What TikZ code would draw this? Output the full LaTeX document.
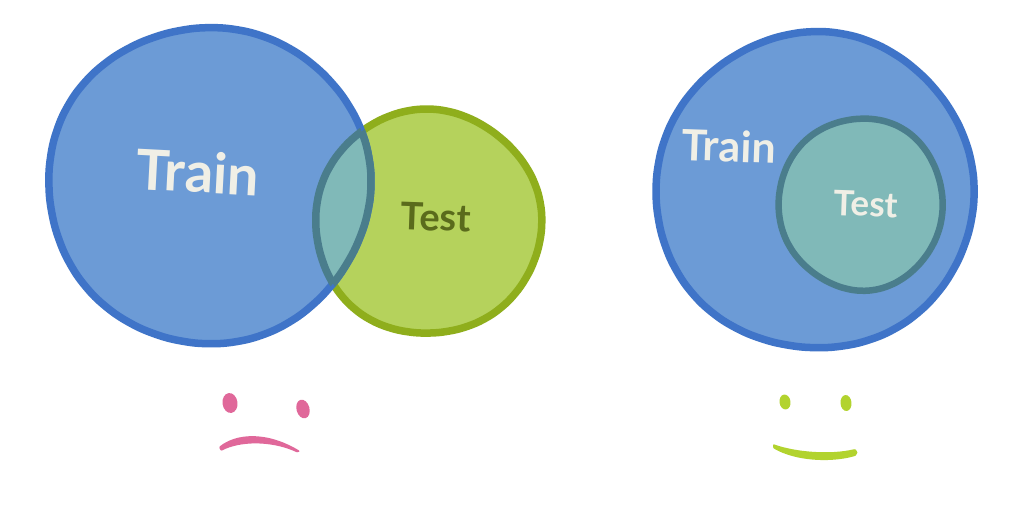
\documentclass[tikz,border=0pt]{standalone}
\usepackage{fontspec}
\setmainfont{Lato}
\definecolor{trainfill}{HTML}{6C9BD6}
\definecolor{trainline}{HTML}{3F74C8}
\definecolor{testfill}{HTML}{B5D25C}
\definecolor{testline}{HTML}{8FAE1C}
\definecolor{mixfill}{HTML}{80B9B8}
\definecolor{mixline}{HTML}{4A7D8C}
\definecolor{chalk}{HTML}{F0EFE6}
\definecolor{olive}{HTML}{5A6B1C}
\definecolor{frown}{HTML}{E0689A}
\definecolor{smile}{HTML}{B2D32E}
\tikzset{
  x=1pt,y=-1pt,
  leftTrain/.style={insert path={plot[smooth cycle,samples=36,domain=0:350,tension=0.7,variable=\t]
    ({209+161*(1+0.006*sin(3*\t+20)+0.004*sin(5*\t+70))*cos(\t)},{185-158*(1+0.006*sin(3*\t+20)+0.004*sin(5*\t+70))*sin(\t)})}},
  leftTest/.style={insert path={plot[smooth cycle,samples=36,domain=0:350,tension=0.7,variable=\t]
    ({428+113*(1+0.007*sin(3*\t+120)+0.005*sin(5*\t+10))*cos(\t)},{222-112*(1+0.007*sin(3*\t+120)+0.005*sin(5*\t+10))*sin(\t)})}},
  rightTrain/.style={insert path={plot[smooth cycle,samples=36,domain=0:350,tension=0.7,variable=\t]
    ({815+159*(1+0.006*sin(3*\t+200)+0.004*sin(5*\t+40))*cos(\t)},{191-158*(1+0.006*sin(3*\t+200)+0.004*sin(5*\t+40))*sin(\t)})}},
  rightTest/.style={insert path={plot[smooth cycle,samples=36,domain=0:350,tension=0.7,variable=\t]
    ({861+82*(1+0.008*sin(3*\t+300)+0.005*sin(5*\t+150))*cos(\t)},{204-86*(1+0.008*sin(3*\t+300)+0.005*sin(5*\t+150))*sin(\t)})}},
  blob/.style={line width=7.5pt,line join=round},
  word/.style={font=\bfseries,inner sep=0pt},
}
\begin{document}
\begin{tikzpicture}
\useasboundingbox (0,0) rectangle (1024,512);
\fill[white] (0,0) rectangle (1024,512);
% left diagram
\path[fill=testfill,draw=testline,blob,leftTest];
\path[fill=trainfill,draw=trainline,blob,leftTrain];
\begin{scope}
  \path[clip,leftTrain];
  \path[fill=mixfill,draw=mixline,blob,leftTest];
\end{scope}
\begin{scope}
  \path[clip,leftTest];
  \path[draw=mixline,blob,leftTrain];
\end{scope}
\node[word,text=chalk,rotate=-3] (trainA) at (198,172) {\fontsize{56}{56}\selectfont Train};
\node[word,text=olive,rotate=-2] (testA) at (436,217) {\fontsize{38}{38}\selectfont Test};
% right diagram
\path[fill=trainfill,draw=trainline,blob,rightTrain];
\path[fill=mixfill,draw=mixline,blob,line width=6.5pt,rightTest];
\node[word,text=chalk,rotate=-2] (trainB) at (729,146) {\fontsize{43}{43}\selectfont Train};
\node[word,text=chalk,rotate=-2] (testB) at (866,204) {\fontsize{35}{35}\selectfont Test};
% sad face
\fill[frown,rotate around={8:(230,403)}] (230,403) ellipse [x radius=7.5,y radius=10];
\fill[frown,rotate around={15:(303,409)}] (303,409) ellipse [x radius=6.5,y radius=9.5];
\fill[frown,rounded corners=1pt] (219,447) .. controls (235,434) and (265,430) .. (300,451) .. controls (298,453) and (296,452) .. (294,451) .. controls (270,441) and (240,441) .. (221,451) -- cycle;
% happy face
\fill[smile,rotate around={8:(785,402)}] (785,402) ellipse [x radius=5.5,y radius=7.5];
\fill[smile,rotate around={5:(846,403)}] (846,403) ellipse [x radius=5.5,y radius=8];
\fill[smile,rounded corners=1pt] (773,444) .. controls (795,452) and (830,455) .. (855,449) .. controls (858,451) and (858,454) .. (855,456) .. controls (830,463) and (795,461) .. (773,448) -- cycle;
\end{tikzpicture}
\end{document}
